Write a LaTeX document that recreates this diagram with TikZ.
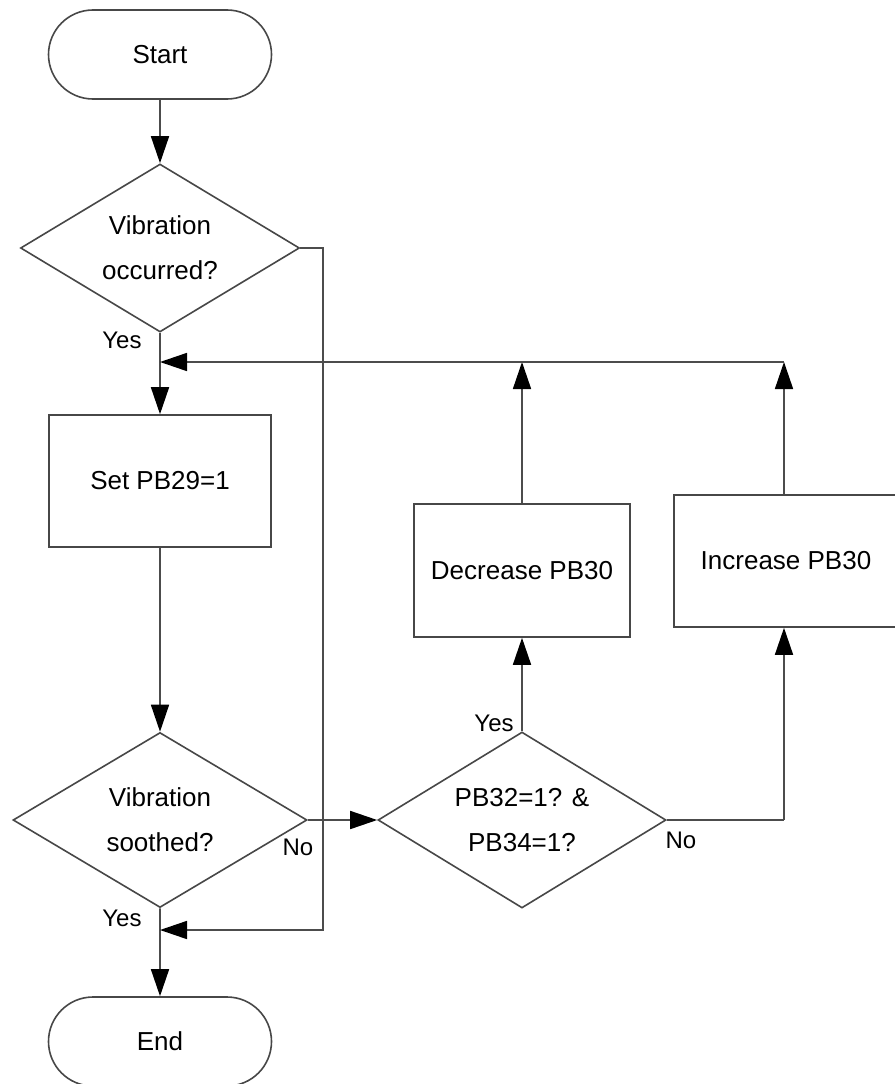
\documentclass[tikz,border=0pt]{standalone}
\usepackage{fontspec}
\setmainfont{Liberation Sans}
\usetikzlibrary{shapes.geometric,shapes.misc,arrows.meta}
\begin{document}
\begin{tikzpicture}[x=1pt,y=-1pt,
  every node/.style={font=\fontsize{26}{45}\selectfont, text=black},
  line/.style={draw=black!70, line width=1.6pt},
  arr/.style={line, -{Triangle[length=27pt,width=18pt,black]}},
  term/.style={rounded rectangle, draw=black!72, line width=1.6pt, minimum width=223pt, minimum height=89pt, inner sep=0pt},
  proc/.style={rectangle, draw=black!72, line width=1.6pt, inner sep=0pt},
  dec/.style={diamond, aspect=1.66, draw=black!72, line width=1.6pt, inner sep=0pt, align=center},
  lbl/.style={font=\fontsize{24}{28}\selectfont, inner sep=0pt}
]
\useasboundingbox (0,0) rectangle (894,1084);
\fill[white] (0,0) rectangle (894,1084);

\node[term] (start) at (160,54.5) {Start};
\node[dec, minimum width=279pt, minimum height=168pt] (d1) at (160,248) {Vibration\\occurred?};
\node[proc, minimum width=222pt, minimum height=132pt] (set) at (160,481) {Set PB29=1};
\node[dec, minimum width=294pt, minimum height=175pt] (d2) at (160,820) {Vibration\\soothed?};
\node[dec, minimum width=288pt, minimum height=176pt] (d3) at (522,820) {PB32=1? \&\\PB34=1?};
\node[proc, minimum width=216pt, minimum height=133pt] (decr) at (522,570.5) {Decrease PB30};
\node[proc, minimum width=224pt, minimum height=132pt] (incr) at (786,561) {Increase PB30};
\node[term] (end) at (160,1041.5) {End};

\coordinate (j1) at (160,362);
\coordinate (j2) at (160,930);
\coordinate (rr) at (323,930);
\coordinate (fbD) at (522,362);
\coordinate (fbI) at (784,362);
\coordinate (c3) at (784,820);

\draw[arr] (start) -- (d1);
\draw[arr] (d1) -- (set);
\draw[arr] (set) -- (d2);
\draw[arr] (d2) -- (end);
\draw[arr] (d2) -- (d3);
\draw[arr] (d3) -- (decr);
\draw[arr] (decr) -- (fbD);
\draw[line] (d3.east) -- (c3);
\draw[arr] (c3) -- (c3 |- incr.south);
\draw[arr] (c3 |- incr.north) -- (fbI);
\draw[arr] (fbI) -- (j1);
\draw[arr] (d1.east) -| (rr) -- (j2);

\node[lbl] (y1) at (122,340) {Yes};
\node[lbl] (y2) at (122,918) {Yes};
\node[lbl] (n2) at (298,847) {No};
\node[lbl] (y3) at (494,723) {Yes};
\node[lbl] (n3) at (681,840) {No};
\end{tikzpicture}
\end{document}
